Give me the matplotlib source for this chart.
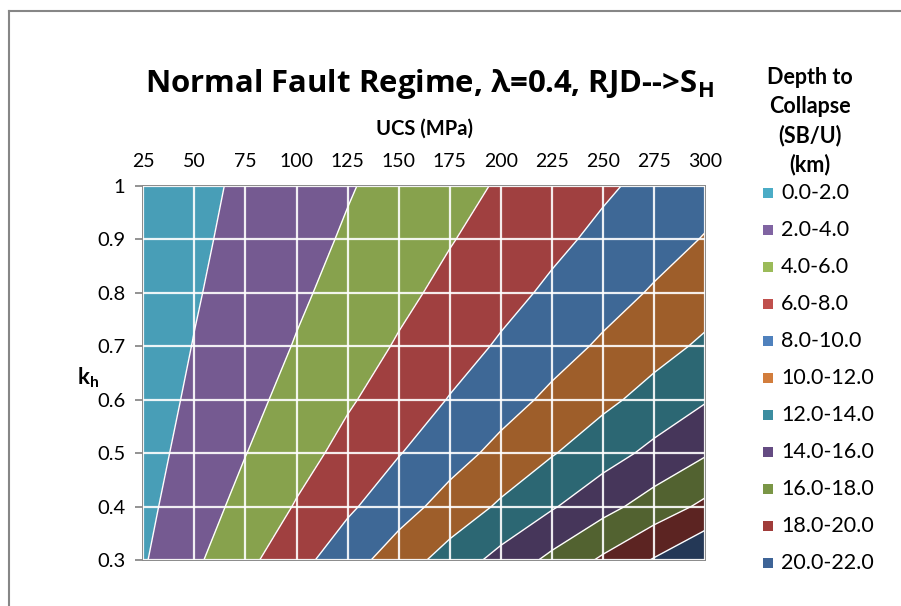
import numpy as np
import matplotlib
matplotlib.use("Agg")
import matplotlib.pyplot as plt
from matplotlib.lines import Line2D
from matplotlib.patches import Rectangle

plt.rcParams['font.family'] = ['Lato', 'DejaVu Sans']
plt.rcParams['mathtext.default'] = 'regular'

# Grid of the surface: UCS (MPa) across, horizontal stress ratio kh down
UCS = [25, 50, 75, 100, 125, 150, 175, 200, 225, 250, 275, 300]
KH = [0.3, 0.4, 0.5, 0.6, 0.7, 0.8, 0.9, 1.0]

# Depth to collapse (km), one row per kh value
DEPTH_KH_03 = [1.83, 3.66, 5.49, 7.33, 9.16, 10.99, 12.82, 14.65, 16.48, 18.32, 20.15, 21.98]
DEPTH_KH_04 = [1.54, 3.07, 4.61, 6.14, 7.68, 9.21, 10.75, 12.29, 13.82, 15.36, 16.89, 18.43]
DEPTH_KH_05 = [1.32, 2.64, 3.96, 5.27, 6.59, 7.91, 9.23, 10.55, 11.87, 13.19, 14.50, 15.82]
DEPTH_KH_06 = [1.16, 2.31, 3.47, 4.62, 5.78, 6.93, 8.09, 9.24, 10.40, 11.55, 12.71, 13.86]
DEPTH_KH_07 = [1.03, 2.06, 3.08, 4.11, 5.14, 6.17, 7.20, 8.22, 9.25, 10.28, 11.31, 12.34]
DEPTH_KH_08 = [0.93, 1.85, 2.78, 3.70, 4.63, 5.56, 6.48, 7.41, 8.33, 9.26, 10.19, 11.11]
DEPTH_KH_09 = [0.84, 1.68, 2.53, 3.37, 4.21, 5.05, 5.90, 6.74, 7.58, 8.42, 9.27, 10.11]
DEPTH_KH_10 = [0.77, 1.55, 2.32, 3.09, 3.86, 4.64, 5.41, 6.18, 6.95, 7.73, 8.50, 9.27]

LEVELS = [0, 2, 4, 6, 8, 10, 12, 14, 16, 18, 20, 22]
BAND_LABELS = ["0.0-2.0", "2.0-4.0", "4.0-6.0", "6.0-8.0", "8.0-10.0", "10.0-12.0",
               "12.0-14.0", "14.0-16.0", "16.0-18.0", "18.0-20.0", "20.0-22.0"]

# shaded fill colours in the plot and flat swatch colours in the legend
FILL_COLORS = ["#489EB7", "#755A91", "#87A24D", "#A04040", "#3E6896", "#9E5E2A",
               "#2C6773", "#46365A", "#526230", "#5C2422", "#243856"]
KEY_COLORS = ["#4BACC6", "#8064A2", "#9BBB59", "#C0504D", "#4F81BD", "#D27D3C",
              "#3C8DA0", "#644B82", "#7A9646", "#A03C3A", "#3E6497"]

W, H = 901, 606
fig = plt.figure(figsize=(W / 100, H / 100), dpi=100)
ax = fig.add_axes([143.3 / W, 1 - 560 / H, 562 / W, 374 / H])

depth = np.array([DEPTH_KH_03, DEPTH_KH_04, DEPTH_KH_05, DEPTH_KH_06,
                  DEPTH_KH_07, DEPTH_KH_08, DEPTH_KH_09, DEPTH_KH_10])
X, Y = np.meshgrid(UCS, KH)
ax.contourf(X, Y, depth, levels=LEVELS, colors=FILL_COLORS, zorder=1)
ax.contour(X, Y, depth, levels=LEVELS[1:-1], colors='white', linewidths=1.0, zorder=2)

ax.set_xlim(25, 300)
ax.set_ylim(0.3, 1.0)
ax.set_xticks(UCS)
ax.set_yticks(KH)
ax.set_yticklabels(["0.3", "0.4", "0.5", "0.6", "0.7", "0.8", "0.9", "1"])
ax.xaxis.tick_top()
ax.tick_params(axis='x', length=0, pad=11.5, labelsize=14, colors='black')
ax.tick_params(axis='y', length=6, width=1.3, color='#8a8a8a', pad=7, labelsize=14.5)
ax.grid(True, color='white', linewidth=1.6, alpha=0.9)
ax.set_axisbelow(False)
for sp in ax.spines.values():
    sp.set_color('#8a8a8a')
    sp.set_linewidth(1.4)

fig.text(429 / W, 1 - 84 / H, r"Normal Fault Regime, λ=0.4, RJD-->S$_H$",
         ha='center', va='center', fontsize=22.4, fontweight='bold',
         family=['Open Sans', 'DejaVu Sans'])
fig.text(425 / W, 1 - 129 / H, "UCS (MPa)", ha='center', va='center',
         fontsize=14.5, fontweight='bold')
fig.text(88 / W, 1 - 378 / H, r"k$_h$", ha='center', va='center',
         fontsize=16, fontweight='bold')

# legend: stacked title and one swatch per depth band
for i, line in enumerate(["Depth to", "Collapse", "(SB/U)", "(km)"]):
    fig.text(810 / W, 1 - (77 + 29.3 * i) / H, line, ha='center', va='center',
             fontsize=15.5, fontweight='bold')
for i, (lab, col) in enumerate(zip(BAND_LABELS, KEY_COLORS)):
    yc = 193 + 37 * i
    fig.patches.append(Rectangle((762.5 / W, 1 - (yc + 5.2) / H), 10.5 / W, 10.5 / H,
                                 transform=fig.transFigure, facecolor=col,
                                 edgecolor='none'))
    fig.text(781 / W, 1 - yc / H, lab, ha='left', va='center', fontsize=15.5)

# chart area border (runs off the right and bottom edges)
fig.lines.append(Line2D([8.5 / W, 8.5 / W], [0, 1 - 11 / H], transform=fig.transFigure,
                        color='#868686', linewidth=1.5))
fig.lines.append(Line2D([8.5 / W, 1], [1 - 11 / H, 1 - 11 / H], transform=fig.transFigure,
                        color='#868686', linewidth=1.5))

fig.savefig("out.png", dpi=100)
